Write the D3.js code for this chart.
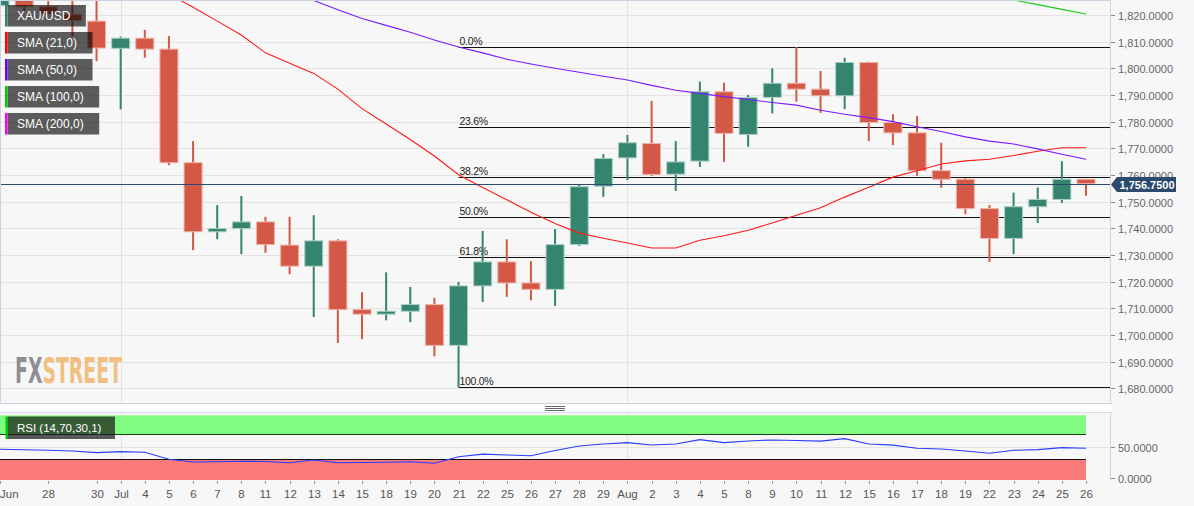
<!DOCTYPE html>
<html><head><meta charset="utf-8">
<script src="https://cdn.jsdelivr.net/npm/d3@7"></script>
<style>
html,body{margin:0;padding:0;background:#f7f7f7;overflow:hidden;}
svg{display:block;font-family:"Liberation Sans",Arial,sans-serif;}
</style></head><body>
<svg id="c" width="1194" height="506"></svg>
<script>
// ---------- DATA ----------
const dates = ["2022-06-24","2022-06-27","2022-06-28","2022-06-29","2022-06-30","2022-07-01",
"2022-07-04","2022-07-05","2022-07-06","2022-07-07","2022-07-08","2022-07-11","2022-07-12",
"2022-07-13","2022-07-14","2022-07-15","2022-07-18","2022-07-19","2022-07-20","2022-07-21",
"2022-07-22","2022-07-25","2022-07-26","2022-07-27","2022-07-28","2022-07-29","2022-08-01",
"2022-08-02","2022-08-03","2022-08-04","2022-08-05","2022-08-08","2022-08-09","2022-08-10",
"2022-08-11","2022-08-12","2022-08-15","2022-08-16","2022-08-17","2022-08-18","2022-08-19",
"2022-08-22","2022-08-23","2022-08-24","2022-08-25","2022-08-26"];
const tickLabels = ["Jun","","28","","30","Jul","4","5","6","7","8","11","12","13","14","15",
"18","19","20","21","22","25","26","27","28","29","Aug","2","3","4","5","8","9","10","11","12",
"15","16","17","18","19","22","23","24","25","26"];
const openP  = [1823.5,1828,1823.1,1820.2,1817.7,1807.5,1811.3,1807.2,1764.6,1738.7,1739.9,1742.4,1733.7,1725.8,1735.3,1709.5,1707.8,1708.9,1711.4,1696.1,1718.4,1727.4,1719.5,1717.1,1733.9,1755.8,1766.4,1771.8,1760.3,1765.2,1791.2,1775.2,1789.1,1794.4,1792.2,1789.7,1802.2,1779.7,1775.8,1761.6,1758.4,1747.4,1736.2,1748.1,1750.8,1758.4];
const highP  = [1830,1830,1829,1827,1825.3,1811.9,1814.4,1812.1,1772.7,1748.7,1752.1,1744.3,1744.3,1744.9,1735.9,1716,1723.5,1718,1713.9,1719.9,1739,1735.9,1727.7,1739.7,1756.4,1767.8,1775,1787.8,1772.7,1795,1794.6,1790,1800,1808,1799,1804,1802.5,1782.8,1782.1,1772.1,1758.9,1748.7,1753.4,1755.3,1765.2,1758.4];
const lowP   = [1822,1821,1820.2,1812.1,1802.7,1784.6,1804,1763.7,1731.8,1735.9,1730.3,1730.8,1722.8,1706.7,1697,1698.4,1705.5,1704.8,1692,1680.5,1712.4,1714.3,1713,1710.9,1733.4,1751.8,1758.1,1759.7,1754,1763,1764.9,1770.6,1783.1,1787.5,1783.3,1784.7,1772.7,1771.2,1759.7,1755.2,1745.3,1727.4,1730.3,1742,1749.5,1752.2];
const closeP = [1828,1823.1,1820.4,1817.9,1807.6,1811.3,1807.2,1764.6,1738.7,1739.9,1742.4,1733.9,1725.8,1735.3,1709.5,1707.8,1708.9,1711.4,1696.1,1718.4,1727.4,1719.5,1717.1,1733.9,1755.6,1766.2,1772.1,1760.2,1764.9,1791.2,1775.6,1789,1794.4,1792.2,1789.7,1802.2,1779.7,1775.8,1761.6,1758.4,1747.4,1736.2,1748.1,1750.8,1758.4,1756.75];
const sma21 = [null,null,null,null,null,null,null,1827.9,1822.9,1817.7,1812.5,1805.8,1801.9,1798.1,1792.2,1784.9,1779.1,1773.3,1767.1,1760.1,1755.3,1750.7,1746.0,1741.8,1738.2,1736.3,1734.5,1732.6,1732.6,1735.5,1737.2,1739.3,1742.0,1744.9,1747.7,1751.7,1755.4,1759.2,1761.6,1764.1,1765.3,1765.9,1767.3,1768.9,1770.2,1770.2];
const sma50 = [null,null,null,null,null,null,null,null,null,null,null,1832.0,1828.7,1825.4,1822.0,1818.7,1816.1,1813.5,1810.6,1808.0,1805.8,1803.4,1801.6,1800.0,1798.5,1797.0,1795.6,1793.6,1791.8,1790.6,1789.4,1788.3,1787.2,1786.2,1784.3,1782.8,1781.5,1780.0,1778.1,1776.3,1774.3,1772.7,1771.6,1769.8,1767.8,1765.9];
const sma100 = [null,null,null,null,null,null,null,null,null,null,null,null,null,null,null,null,null,null,null,null,null,null,null,null,null,null,null,null,null,null,null,null,null,null,null,null,null,null,null,null,1829.3,1827.5,1825.6,1823.9,1822.1,1820.4];
const rsiVals = [45.8,45.0,44.3,43.1,40.4,42.0,41.1,29.9,25.6,25.9,26.8,26.4,24.4,28.8,24.4,24.8,25.2,25.9,23.5,34.0,38.0,36.7,35.6,43.9,51.1,54.3,56.4,52.7,54.3,61.2,56.4,59.1,60.7,59.9,58.8,62.8,54.3,52.4,47.4,46.3,43.1,39.5,44.2,45.2,48.4,47.4];
const priceTicks = [1680,1690,1700,1710,1720,1730,1740,1750,1760,1770,1780,1790,1800,1810,1820];
const rsiTicks = [0,50];
const fibLevels = [0,23.6,38.2,50,61.8,100];
const fibHigh = 1808.0, fibLow = 1680.5;
const fibStartDate = "2022-07-21";
const lastPrice = 1756.75;
const legendNames = ["XAU/USD","SMA (21,0)","SMA (50,0)","SMA (100,0)","SMA (200,0)"];
const legendColors = ["#35846f","#ff0000","#6a00ff","#00cc00","#ff00ff"];
const rsiLabel = "RSI (14,70,30,1)";

// ---------- LAYOUT ----------
const W = 1194, plotR = 1110;
const mainTop = 0, mainBot = 403;
const rsiTop = 412.5, rsiBot = 480;
const svg = d3.select("#c");
const x = d3.scalePoint().domain(dates).range([0, 1086]);
const y = d3.scaleLinear().domain([1680, 1820]).range([388.3, 15]);
const yr = d3.scaleLinear().domain([0, 100]).range([478, 415.3]);
const fmt = d3.format(",.4f");
const UP = "#35846f", DN = "#d35946";

svg.append("rect").attr("width", W).attr("height", 506).attr("fill", "#f7f7f7");
const defs = svg.append("defs");
defs.append("clipPath").attr("id","cm").append("rect").attr("x",0).attr("y",mainTop).attr("width",plotR).attr("height",mainBot-mainTop);
defs.append("clipPath").attr("id","cr").append("rect").attr("x",0).attr("y",rsiTop).attr("width",plotR).attr("height",rsiBot-rsiTop);

// grid main
const gm = svg.append("g").attr("clip-path","url(#cm)");
gm.selectAll("line.h").data(priceTicks).join("line")
  .attr("x1",0).attr("x2",plotR).attr("y1",d=>Math.round(y(d))+0.5).attr("y2",d=>Math.round(y(d))+0.5)
  .attr("stroke","#e3e3e3");
const monthStarts = ["2022-07-01","2022-08-01"];
gm.selectAll("line.v").data(monthStarts).join("line")
  .attr("x1",d=>Math.round(x(d))+0.5).attr("x2",d=>Math.round(x(d))+0.5).attr("y1",mainTop).attr("y2",mainBot)
  .attr("stroke","#e3e3e3");

// fib lines
const fx0 = x(fibStartDate);
const fibG = gm.append("g");
fibLevels.forEach(l => {
  const v = fibHigh - (fibHigh - fibLow) * l / 100;
  const yy = Math.round(y(v)) + 0.5;
  fibG.append("line").attr("x1",fx0).attr("x2",plotR).attr("y1",yy).attr("y2",yy).attr("stroke","#111").attr("stroke-width",1);
  fibG.append("text").attr("x",fx0+1).attr("y",yy-3).attr("font-size",10.5).attr("letter-spacing","-0.3px")
    .attr("fill","#222").text(l.toFixed(1)+"%");
});

// candles
const candles = dates.map((d,i)=>({d, o:openP[i], h:highP[i], l:lowP[i], c:closeP[i]}));
const cg = gm.append("g");
cg.selectAll("rect.w").data(candles).join("rect")
  .attr("x",d=>x(d.d)-1).attr("width",2)
  .attr("y",d=>y(d.h)).attr("height",d=>y(d.l)-y(d.h))
  .attr("fill",d=>d.c>=d.o?UP:DN);
cg.selectAll("rect.b").data(candles).join("rect")
  .attr("x",d=>x(d.d)-9).attr("width",18)
  .attr("y",d=>y(Math.max(d.o,d.c))).attr("height",d=>Math.max(1.5,Math.abs(y(d.o)-y(d.c))))
  .attr("fill",d=>d.c>=d.o?UP:DN)
  .attr("stroke",d=>d.c>=d.o?"#a9d0c5":"#f0b3a9").attr("stroke-width",1);

// SMA lines
function smaLine(arr,color){
  const pts = dates.map((d,i)=>[d,arr[i]]).filter(p=>p[1]!=null);
  gm.append("path").datum(pts)
    .attr("d", d3.line().x(p=>x(p[0])).y(p=>y(p[1])))
    .attr("fill","none").attr("stroke",color).attr("stroke-width",1.1);
}
smaLine(sma21,"#ff1a1a");
smaLine(sma50,"#7a1aff");
smaLine(sma100,"#1acc1a");

// price line
const py = Math.round(y(lastPrice))+0.5;
svg.append("line").attr("x1",0).attr("x2",plotR).attr("y1",py).attr("y2",py).attr("stroke","#2b4a6e").attr("stroke-width",1);

// borders
svg.append("line").attr("x1",0).attr("x2",plotR).attr("y1",0.5).attr("y2",0.5).attr("stroke","#cdd3e3");
svg.append("line").attr("x1",0.5).attr("x2",0.5).attr("y1",0).attr("y2",mainBot).attr("stroke","#cdd3e3");
svg.append("line").attr("x1",plotR+0.5).attr("x2",plotR+0.5).attr("y1",0).attr("y2",mainBot).attr("stroke","#cdd3e3");
svg.append("rect").attr("x",0).attr("y",mainBot).attr("width",plotR+2).attr("height",rsiTop-mainBot).attr("fill","#ffffff");
svg.append("line").attr("x1",0).attr("x2",plotR+2).attr("y1",mainBot+0.5).attr("y2",mainBot+0.5).attr("stroke","#cdd3e3");
svg.append("line").attr("x1",0).attr("x2",plotR+2).attr("y1",rsiTop).attr("y2",rsiTop).attr("stroke","#cdd3e3");
[406,408,410].forEach(yy=>svg.append("line").attr("x1",545).attr("x2",565).attr("y1",yy+0.5).attr("y2",yy+0.5).attr("stroke","#666"));

// y-axis main
const ya = svg.append("g");
priceTicks.forEach(t=>{
  const yy = Math.round(y(t))+0.5;
  ya.append("line").attr("x1",plotR+1).attr("x2",plotR+5).attr("y1",yy).attr("y2",yy).attr("stroke","#888");
  ya.append("text").attr("x",plotR+8).attr("y",yy+4).attr("font-size",11).attr("fill","#666").text(fmt(t));
});
// price tag
const tag = svg.append("g");
tag.append("path").attr("d",`M${plotR+1},${py} L${plotR+7},${py-7.5} L${plotR+66},${py-7.5} L${plotR+66},${py+7.5} L${plotR+7},${py+7.5} Z`).attr("fill","#2b4a6e");
tag.append("text").attr("x",plotR+37).attr("y",py+4).attr("text-anchor","middle").attr("font-size",11).attr("font-weight","bold").attr("fill","#fff").text(fmt(lastPrice));

// RSI panel
const gr = svg.append("g").attr("clip-path","url(#cr)");
gr.append("rect").attr("x",0).attr("y",rsiTop).attr("width",plotR).attr("height",rsiBot-rsiTop).attr("fill","#f7f7f7");
gr.selectAll("line.rv").data(monthStarts).join("line")
  .attr("x1",d=>Math.round(x(d))+0.5).attr("x2",d=>Math.round(x(d))+0.5).attr("y1",rsiTop).attr("y2",rsiBot).attr("stroke","#e3e3e3");
gr.append("line").attr("x1",0).attr("x2",plotR).attr("y1",Math.round(yr(50))+0.5).attr("y2",Math.round(yr(50))+0.5).attr("stroke","#e3e3e3");
const bandX1 = x(dates[dates.length-1]);
gr.append("rect").attr("x",0).attr("width",bandX1).attr("y",yr(100)).attr("height",yr(70)-yr(100)).attr("fill","#80fd80");
gr.append("rect").attr("x",0).attr("width",bandX1).attr("y",yr(30)).attr("height",yr(0)-yr(30)+3).attr("fill","#fa7a7a");
gr.append("line").attr("x1",0).attr("x2",bandX1).attr("y1",Math.round(yr(70))+0.5).attr("y2",Math.round(yr(70))+0.5).attr("stroke","#1d3a1d");
gr.append("line").attr("x1",0).attr("x2",bandX1).attr("y1",Math.round(yr(30))+0.5).attr("y2",Math.round(yr(30))+0.5).attr("stroke","#111");
gr.append("path").datum(rsiVals)
  .attr("d", d3.line().x((v,i)=>x(dates[i])).y(v=>yr(v)))
  .attr("fill","none").attr("stroke","#2a3cff").attr("stroke-width",1.1);
svg.append("line").attr("x1",plotR+0.5).attr("x2",plotR+0.5).attr("y1",rsiTop).attr("y2",rsiBot).attr("stroke","#cdd3e3");
rsiTicks.forEach(t=>{
  const yy = Math.round(yr(t))+0.5;
  svg.append("line").attr("x1",plotR+1).attr("x2",plotR+5).attr("y1",yy).attr("y2",yy).attr("stroke","#888");
  svg.append("text").attr("x",plotR+8).attr("y",yy+4).attr("font-size",11).attr("fill","#666").text(fmt(t));
});
// RSI label
svg.append("rect").attr("x",5.5).attr("y",416.5).attr("width",2.5).attr("height",22.5).attr("fill","#00c800");
svg.append("rect").attr("x",8).attr("y",416.5).attr("width",107).attr("height",22.5).attr("fill","#1a1a1a").attr("fill-opacity",0.72);
svg.append("text").attr("x",17).attr("y",432).attr("font-size",11.5).attr("fill","#fff").text(rsiLabel);

// x axis
const xa = svg.append("g");
dates.forEach((d,i)=>{
  if(!tickLabels[i]) return;
  const xx = Math.round(x(d))+0.5;
  xa.append("line").attr("x1",xx).attr("x2",xx).attr("y1",481).attr("y2",484).attr("stroke","#999");
  xa.append("text").attr("x", i===0 ? 0 : xx).attr("y",498).attr("text-anchor", i===0?"start":"middle")
    .attr("font-size",11.5).attr("fill","#555").text(tickLabels[i]);
});

// legend
const lg = svg.append("g");
legendNames.forEach((n,i)=>{
  const top = 5 + i*27;
  const g = lg.append("g");
  const bx = g.append("rect").attr("x",7.5).attr("y",top).attr("height",21.5).attr("fill","#000").attr("fill-opacity",0.63);
  g.append("rect").attr("x",5).attr("y",top).attr("width",2.5).attr("height",21.5).attr("fill",legendColors[i]);
  const t = g.append("text").attr("x",17).attr("y",top+15).attr("font-size",12).attr("fill","#fff").text(n);
  const tw = t.node().getComputedTextLength();
  bx.attr("width", tw + 25);
});

// watermark
const wm = svg.append("text").attr("x",15).attr("y",383)
  .attr("font-family","'DejaVu Sans Condensed','Liberation Sans Narrow',sans-serif").attr("font-weight","bold")
  .attr("font-size",35).attr("textLength",107).attr("lengthAdjust","spacingAndGlyphs");
wm.append("tspan").attr("fill","#8e8e96").text("FX");
wm.append("tspan").attr("fill","#f1c081").text("STREET");
</script>
</body></html>
